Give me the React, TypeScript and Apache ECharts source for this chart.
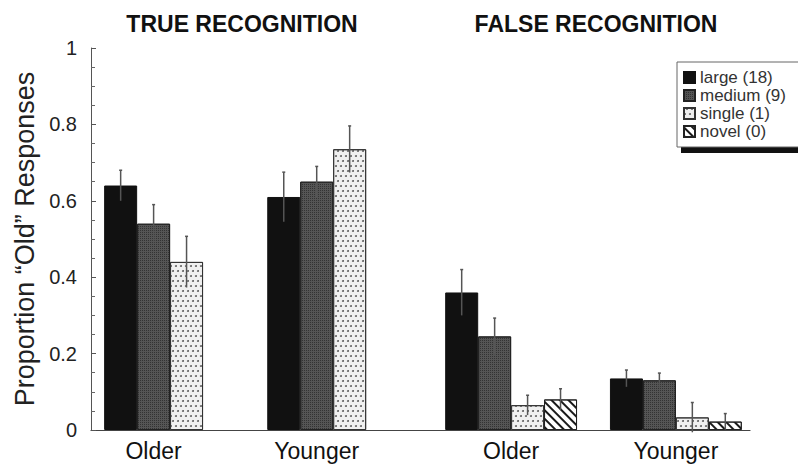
import React, { useEffect, useRef } from "react";
import * as echarts from "echarts";

// Age groups along the x axis (first two: true recognition, last two: false recognition)
const groups = ["Older", "Younger", "Older", "Younger"];
const panelTitles = ["TRUE RECOGNITION", "FALSE RECOGNITION"];

// Cue-set size conditions
const seriesNames = ["large (18)", "medium (9)", "single (1)", "novel (0)"];

// Proportion of "old" responses per condition and group
const large = [0.64, 0.61, 0.36, 0.135];
const medium = [0.54, 0.65, 0.245, 0.13];
const single = [0.44, 0.735, 0.065, 0.033];
const novel = [null, null, 0.08, 0.022];

// Standard errors
const largeErr = [0.04, 0.065, 0.06, 0.022];
const mediumErr = [0.05, 0.04, 0.048, 0.019];
const singleErr = [0.067, 0.061, 0.026, 0.039];
const novelErr = [null, null, 0.028, 0.021];

// Layout: group centres on a hidden value axis measured in bar widths
const GROUP_POS = [1.9, 6.85, 12.75, 17.75];
const X_MAX = 20;
const BAR_W = 33;
const FONT = "'Liberation Sans', Arial, Helvetica, sans-serif";

const values = [large, medium, single, novel];
const errors = [largeErr, mediumErr, singleErr, novelErr];

const styles = [
  { color: "#111111", borderColor: "#111", borderWidth: 1 },
  {
    color: "#555555",
    borderColor: "#222",
    borderWidth: 1,
    decal: {
      symbol: "rect",
      symbolSize: 1,
      color: "#333333",
      dashArrayX: [1, 1],
      dashArrayY: [1, 1],
    },
  },
  {
    color: "#f0f0f0",
    borderColor: "#333",
    borderWidth: 1,
    decal: {
      symbol: "circle",
      symbolSize: 0.95,
      color: "#5a5a5a",
      dashArrayX: [[1.7, 2.3], [0, 2, 1.7, 0.3]],
      dashArrayY: [1.7, 2.3],
    },
  },
  {
    color: "#ffffff",
    borderColor: "#222",
    borderWidth: 1,
    decal: {
      symbol: "rect",
      symbolSize: 1,
      color: "#1a1a1a",
      dashArrayX: [1, 0],
      dashArrayY: [1.8, 3.6],
      rotation: Math.PI / 4,
    },
  },
];

function barX(groupIdx: number, seriesIdx: number): number {
  const present = values
    .map((arr, i) => (arr[groupIdx] == null ? -1 : i))
    .filter((i) => i >= 0);
  const k = present.indexOf(seriesIdx);
  return GROUP_POS[groupIdx] + k - (present.length - 1) / 2;
}

export default function App() {
  const ref = useRef<HTMLDivElement>(null);

  useEffect(() => {
    if (!ref.current) return;
    const chart = echarts.init(ref.current, null, { renderer: "svg" });

    const barSeries = seriesNames.map((name, s) => ({
      name,
      type: "bar",
      barWidth: BAR_W,
      barGap: "-100%",
      itemStyle: styles[s],
      z: 2,
      data: groups
        .map((_, g) => (values[s][g] == null ? null : [barX(g, s), values[s][g]]))
        .filter((d) => d !== null),
    }));

    const errData: number[][] = [];
    seriesNames.forEach((_, s) => {
      groups.forEach((_, g) => {
        const v = values[s][g];
        const e = errors[s][g];
        if (v != null && e != null) errData.push([barX(g, s), v, e]);
      });
    });

    const errorSeries = {
      type: "custom",
      name: "error",
      z: 4,
      data: errData,
      encode: { x: 0, y: 1 },
      renderItem: (_params: any, api: any) => {
        const x = api.value(0);
        const v = api.value(1);
        const e = api.value(2);
        const top = api.coord([x, v + e]);
        const bot = api.coord([x, v - e]);
        const st = { stroke: "#555", lineWidth: 1.5 };
        return {
          type: "group",
          children: [
            { type: "line", shape: { x1: top[0], y1: top[1], x2: bot[0], y2: bot[1] }, style: st },
            { type: "line", shape: { x1: top[0] - 1.5, y1: top[1], x2: top[0] + 1.5, y2: top[1] }, style: st },
          ],
        };
      },
    };

    chart.setOption({
      animation: false,
      backgroundColor: "#ffffff",
      textStyle: { fontFamily: FONT },
      title: [
        {
          text: panelTitles[0],
          left: 237,
          top: 7,
          textAlign: "center",
          textStyle: { fontFamily: FONT, fontSize: 23, fontWeight: "bold", color: "#111" },
        },
        {
          text: panelTitles[1],
          left: 591,
          top: 7,
          textAlign: "center",
          textStyle: { fontFamily: FONT, fontSize: 23, fontWeight: "bold", color: "#111" },
        },
      ],
      graphic: [
        {
          type: "rect",
          z: 1,
          shape: { x: 681, y: 67, width: 130, height: 86 },
          style: { fill: "#111" },
        },
        {
          type: "rect",
          z: 1,
          shape: { x: 677, y: 62, width: 130, height: 85 },
          style: { fill: "#fff", stroke: "#666", lineWidth: 1 },
        },
      ],
      legend: {
        data: seriesNames,
        orient: "vertical",
        left: 683,
        top: 69,
        itemWidth: 11,
        itemHeight: 11,
        itemGap: 1,
        icon: "rect",
        z: 5,
        padding: 0,
        textStyle: {
          fontFamily: FONT,
          fontSize: 17,
          color: "#333",
        },
      },
      grid: { left: 91, right: 48, top: 48, bottom: 43, containLabel: false },
      xAxis: {
        type: "value",
        min: 0,
        max: X_MAX,
        splitLine: { show: false },
        axisTick: { show: false },
        axisLine: { show: true, lineStyle: { color: "#444", width: 1.2 } },
        axisLabel: {
          customValues: GROUP_POS,
          formatter: (val: number) => {
            const i = GROUP_POS.findIndex((p) => Math.abs(p - val) < 1e-6);
            return i >= 0 ? groups[i] : "";
          },
          fontFamily: FONT,
          fontSize: 23,
          color: "#111",
          margin: 9,
        },
      },
      yAxis: {
        type: "value",
        min: 0,
        max: 1,
        interval: 0.2,
        name: "Proportion \u201cOld\u201d Responses",
        nameLocation: "middle",
        nameGap: 52,
        nameTextStyle: { fontFamily: FONT, fontSize: 27, color: "#222" },
        splitLine: { show: false },
        axisLine: { show: true, lineStyle: { color: "#555", width: 1 } },
        axisTick: { show: true, inside: true, length: 5, lineStyle: { color: "#555" } },
        minorTick: { show: true, splitNumber: 4, length: 4, lineStyle: { color: "#666" } },
        axisLabel: { fontFamily: FONT, fontSize: 20, color: "#222", margin: 14 },
      },
      series: [...barSeries, errorSeries],
    });

    return () => chart.dispose();
  }, []);

  return (
    <div
      ref={ref}
      style={{ position: "absolute", left: 0, top: 0, width: 798, height: 473 }}
    />
  );
}
